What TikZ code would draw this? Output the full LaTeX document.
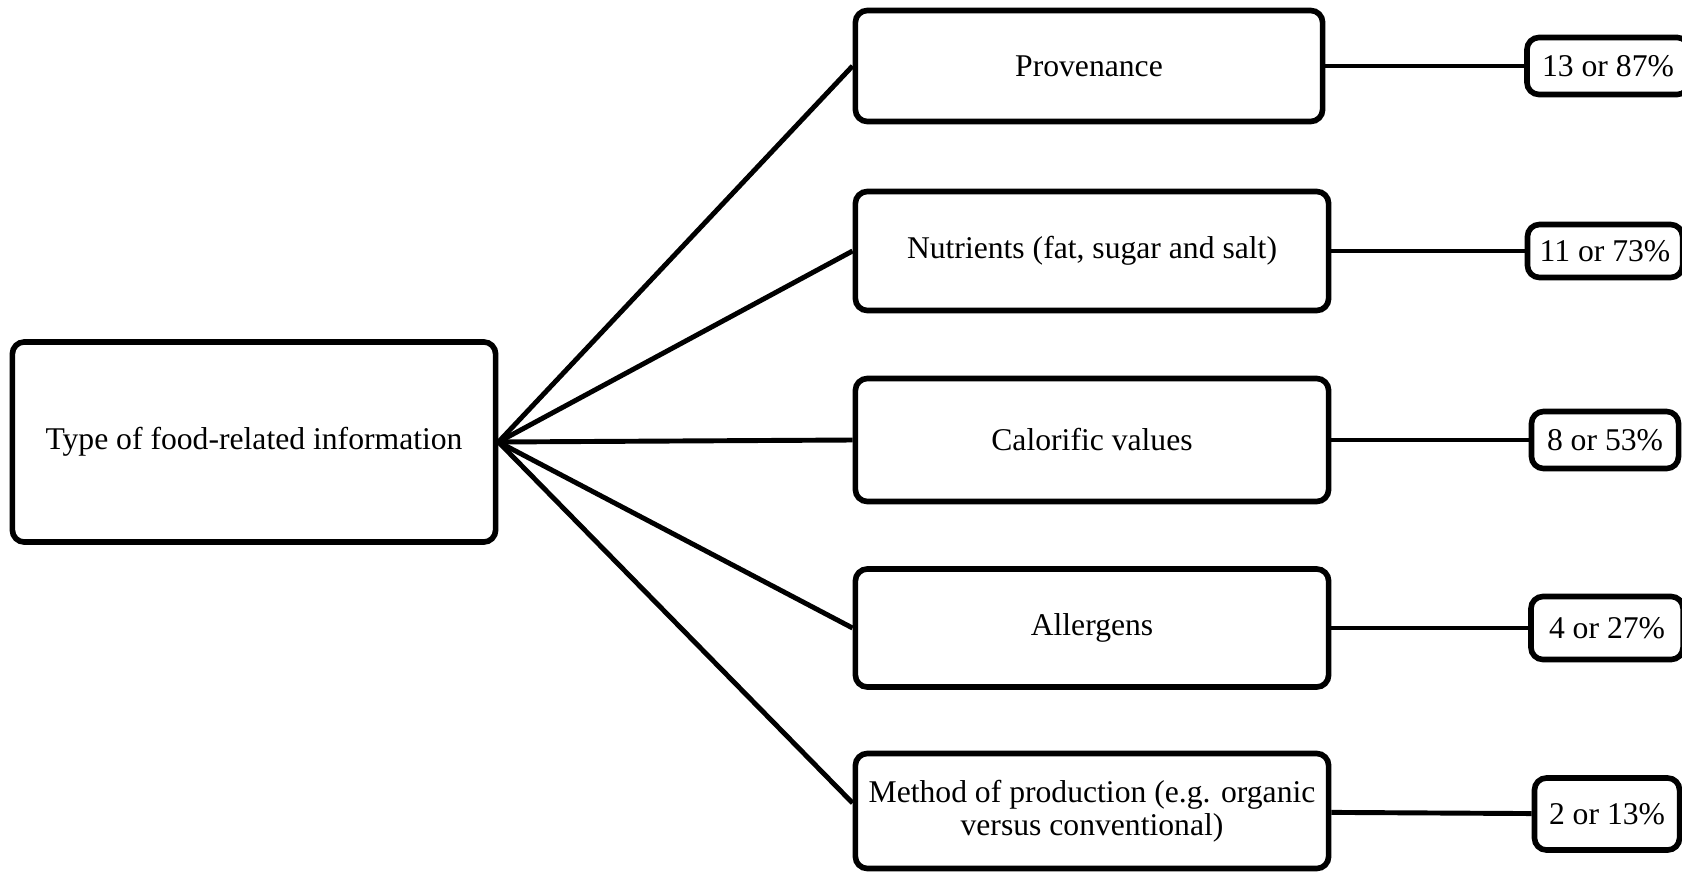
\documentclass[tikz,border=0pt]{standalone}
\usepackage{fontspec}
\setmainfont{Liberation Serif}
\usetikzlibrary{positioning}

\begin{document}
\begin{tikzpicture}[x=0.01cm, y=-0.01cm,
  box/.style={draw, line width=1.6pt, rounded corners=0.12cm, align=center, inner sep=0pt, font=\fontsize{9}{9.5}\selectfont},
  link/.style={line width=1.4pt}]
\useasboundingbox (0,0) rectangle (1682,873);
\clip (0,0) rectangle (1682,873);
\node[box, minimum width=4.83cm, minimum height=2cm] (type) at (254,442) {Type of food-related information};
\node[box, minimum width=4.67cm, minimum height=1.11cm] (prov) at (1089,66) {Provenance};
\node[box, minimum width=4.73cm, minimum height=1.19cm] (nutr) at (1092,251) {Nutrients (fat, sugar and salt)};
\node[box, minimum width=4.73cm, minimum height=1.23cm] (calo) at (1092,440) {Calorific values};
\node[box, minimum width=4.73cm, minimum height=1.18cm] (alle) at (1092,628) {Allergens};
\node[box, minimum width=4.73cm, minimum height=1.15cm] (meth) at (1092,811) {Method of production (e.g. organic\\versus conventional)};
\node[box, minimum width=1.62cm, minimum height=0.57cm] (pprov) at (1608,66) {13 or 87\%};
\node[box, minimum width=1.55cm, minimum height=0.53cm] (pnutr) at (1605,251) {11 or 73\%};
\node[box, minimum width=1.47cm, minimum height=0.57cm] (pcalo) at (1605,440) {8 or 53\%};
\node[box, minimum width=1.52cm, minimum height=0.63cm] (palle) at (1607,628) {4 or 27\%};
\node[box, minimum width=1.45cm, minimum height=0.72cm] (pmeth) at (1607,814) {2 or 13\%};
\draw[link] (type.east) -- (prov.west);
\draw[link] (type.east) -- (nutr.west);
\draw[link] (type.east) -- (calo.west);
\draw[link] (type.east) -- (alle.west);
\draw[link] (type.east) -- ([yshift=0.08cm]meth.west);
\draw[link] (prov) -- (pprov);
\draw[link] (nutr) -- (pnutr);
\draw[link] (calo) -- (pcalo);
\draw[link] (alle) -- (palle);
\draw[link] (meth) -- (pmeth);
\end{tikzpicture}
\end{document}
